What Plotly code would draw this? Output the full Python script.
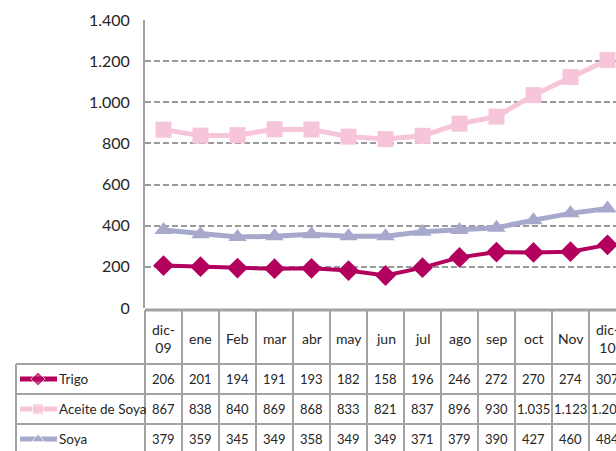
import plotly.graph_objects as go

# ---------------- data ----------------
categories = ["dic-<br>09", "ene", "Feb", "mar", "abr", "may", "jun", "jul",
              "ago", "sep", "oct", "Nov", "dic-<br>10"]
series_names = ["Trigo", "Aceite de Soya", "Soya"]
trigo = [206, 201, 194, 191, 193, 182, 158, 196, 246, 272, 270, 274, 307]
aceite_soya = [867, 838, 840, 869, 868, 833, 821, 837, 896, 930, 1035, 1123, 1205]
soya = [379, 359, 345, 349, 358, 349, 349, 371, 379, 390, 427, 460, 484]
y_ticks = [0, 200, 400, 600, 800, 1000, 1200, 1400]

series_values = [trigo, aceite_soya, soya]
colors = ["#B3005C", "#F7C5DA", "#A7A9CC"]
symbols = ["diamond", "square", "triangle-up"]
msizes = [16, 16, 16]
lwidths = [4, 5, 5]

W, H = 616, 451
FONT = "Lato, Liberation Sans, sans-serif"
GRID = "#9a9a9a"
BORDER = "#a2a2a2"
TXT = "#262626"

# pixel layout (screen coordinates)
AX_LEFT = 145        # y axis position
PLOT_TOP, PLOT_BOT = 20, 308
COLW = 37.0
N = len(categories)


def px(x):
    return x / W


def py(y):
    return 1 - y / H


x_hi = -0.5 + (W - AX_LEFT) / COLW


def xcol(v):
    """paper x of a data-x value"""
    return px(AX_LEFT + (v + 0.5) * COLW)


xs = list(range(N))
fig = go.Figure()
for name, vals, c, s, ms, lw in zip(series_names, series_values, colors, symbols, msizes, lwidths):
    fig.add_trace(go.Scatter(
        x=xs, y=vals, name=name, mode="lines+markers",
        line=dict(color=c, width=lw),
        marker=dict(symbol=s, size=ms, color=c),
        cliponaxis=False, showlegend=False,
    ))

# legend samples in the table (overlay axis in legend column)
LEG_L, LEG_R = 16, AX_LEFT
HDR_TOP, HDR_BOT = 310, 364
ROW_H = 30
row_centers = [HDR_BOT + ROW_H * (i + 0.5) for i in range(3)]
for i, (c, s, lw) in enumerate(zip(colors, symbols, lwidths)):
    yc = row_centers[i]
    fig.add_trace(go.Scatter(
        x=[4, 22, 41], y=[yc, yc, yc], mode="lines+markers",
        line=dict(color=c, width=5),
        marker=dict(symbol=s, size=[0, 11, 0], color=c),
        xaxis="x2", yaxis="y2", showlegend=False, hoverinfo="skip",
        cliponaxis=False,
    ))

shapes = []
# table top border (x axis line area)
shapes.append(dict(type="line", xref="paper", yref="paper",
                   x0=px(AX_LEFT), x1=1.05, y0=py(HDR_TOP), y1=py(HDR_TOP),
                   line=dict(color=BORDER, width=3)))
# column vertical lines
for i in range(N + 1):
    xp = xcol(i - 0.5)
    shapes.append(dict(type="line", xref="paper", yref="paper",
                       x0=xp, x1=xp, y0=py(HDR_TOP), y1=-0.05,
                       line=dict(color=BORDER, width=2)))
# left border of legend column
shapes.append(dict(type="line", xref="paper", yref="paper",
                   x0=px(LEG_L), x1=px(LEG_L), y0=py(HDR_BOT), y1=-0.05,
                   line=dict(color=BORDER, width=2)))
# row horizontal lines
for r in range(4):
    yy = HDR_BOT + ROW_H * r
    shapes.append(dict(type="line", xref="paper", yref="paper",
                       x0=px(LEG_L), x1=1.05, y0=py(yy), y1=py(yy),
                       line=dict(color=BORDER, width=2)))

annotations = []
hdr_c = (HDR_TOP + HDR_BOT) / 2 + 1
for i, cat in enumerate(categories):
    annotations.append(dict(x=xcol(i), y=py(hdr_c), xref="paper", yref="paper",
                            text=cat, showarrow=False, xanchor="center", yanchor="middle",
                            font=dict(family=FONT, size=14, color=TXT)))


def fmt(v):
    return f"{v:,}".replace(",", ".")


for r, (name, vals) in enumerate(zip(series_names, series_values)):
    yc = row_centers[r]
    annotations.append(dict(x=px(57), y=py(yc), xref="paper", yref="paper",
                            text=name, showarrow=False, xanchor="left", yanchor="middle",
                            font=dict(family=FONT, size=13.5, color=TXT)))
    for i, v in enumerate(vals):
        annotations.append(dict(x=xcol(i), y=py(yc), xref="paper", yref="paper",
                                text=fmt(v), showarrow=False, xanchor="center", yanchor="middle",
                                font=dict(family=FONT, size=13, color=TXT)))

fig.update_layout(
    width=W, height=H,
    margin=dict(l=0, r=0, t=0, b=0, pad=0, autoexpand=False),
    paper_bgcolor="white", plot_bgcolor="white",
    separators=",.",
    showlegend=False,
    xaxis=dict(domain=[px(AX_LEFT), 1], range=[-0.5, x_hi], automargin=False,
               showticklabels=False, showgrid=False, zeroline=False,
               showline=False, ticks=""),
    yaxis=dict(domain=[py(PLOT_BOT), py(PLOT_TOP)], range=[0, 1400], automargin=False,
               tickvals=y_ticks, tickformat=",d",
               showgrid=True, gridcolor=GRID, gridwidth=2, griddash="6px,3px",
               zeroline=False, showline=True, linecolor=BORDER, linewidth=2,
               ticks="", ticklabelstandoff=10,
               tickfont=dict(family=FONT, size=16, color=TXT)),
    xaxis2=dict(domain=[px(LEG_L), px(LEG_R)], range=[0, LEG_R - LEG_L],
                visible=False, anchor="y2", automargin=False),
    yaxis2=dict(domain=[0, py(HDR_BOT)], range=[H, HDR_BOT],
                visible=False, anchor="x2", automargin=False),
    shapes=shapes,
    annotations=annotations,
)

fig.write_html(
    "out.html",
    config={"displayModeBar": False},
    post_script="document.body.style.margin='0';document.body.style.overflow='hidden';",
)
